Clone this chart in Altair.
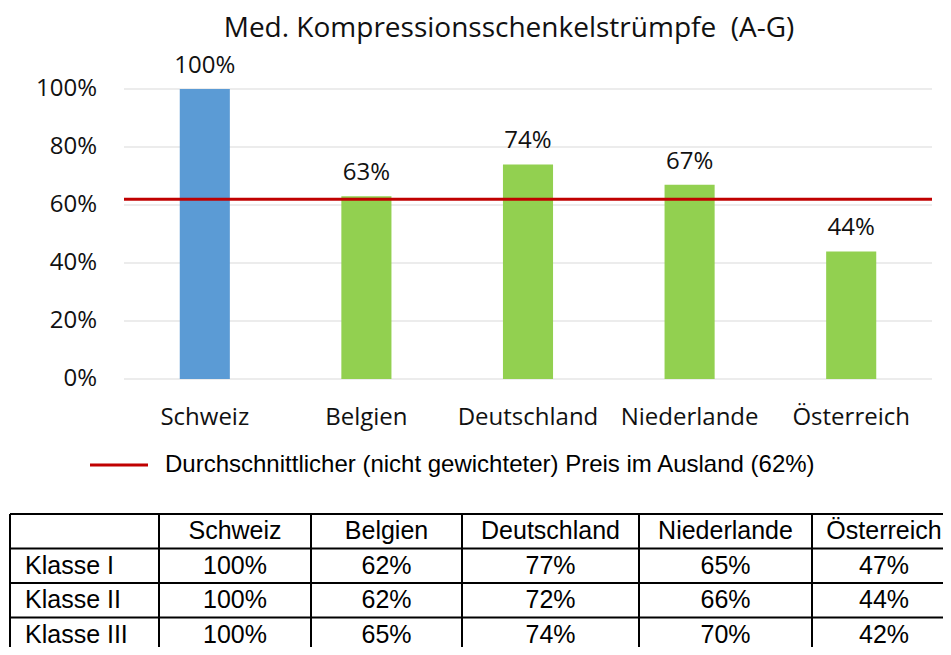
import altair as alt
import pandas as pd

# ---------------- data ----------------
countries = ["Schweiz", "Belgien", "Deutschland", "Niederlande", "Österreich"]
values = [1.00, 0.63, 0.74, 0.67, 0.44]
bar_colors = ["#5B9BD5", "#92D050", "#92D050", "#92D050", "#92D050"]
y_ticks = [0.0, 0.2, 0.4, 0.6, 0.8, 1.0]
average = 0.62
title_text = "Med. Kompressionsschenkelstrümpfe \u00a0(A-G)"
legend_label = "Durchschnittlicher (nicht gewichteter) Preis im Ausland (62%)"

table_header = ["Schweiz", "Belgien", "Deutschland", "Niederlande", "Österreich"]
table_rows = ["Klasse I", "Klasse II", "Klasse III"]
klasse_1 = ["100%", "62%", "77%", "65%", "47%"]
klasse_2 = ["100%", "62%", "72%", "66%", "44%"]
klasse_3 = ["100%", "65%", "74%", "70%", "42%"]
table_values = [klasse_1, klasse_2, klasse_3]

# ---------------- layout ----------------
W, H = 935, 639
PX = [116, 924]
PY = [371, 81]
CAL = "Open Sans"
ARIAL = "Liberation Sans"

xs = alt.Scale(domain=countries, range=PX, paddingInner=0.69, paddingOuter=0.345)
ys = alt.Scale(domain=[0, 1], range=PY, nice=False, zero=False)

df = pd.DataFrame({"country": countries, "value": values})
df_ticks = pd.DataFrame({"t": y_ticks})
one = pd.DataFrame({"k": [0]})

grid = alt.Chart(df_ticks).mark_rule(color="#D9D9D9", strokeWidth=1).encode(
    y=alt.Y("t:Q", scale=ys, axis=None), x=alt.value(PX[0]), x2=alt.value(PX[1]))

ylab = alt.Chart(df_ticks).mark_text(align="right", baseline="middle", font=CAL,
                                     fontSize=24, color="#111").encode(
    y=alt.Y("t:Q", scale=ys, axis=None), x=alt.value(89),
    text=alt.Text("t:Q", format=".0%"))

bars = alt.Chart(df).mark_bar().encode(
    x=alt.X("country:N", scale=xs, axis=None),
    y=alt.Y("value:Q", scale=ys, axis=None),
    color=alt.Color("country:N", scale=alt.Scale(domain=countries, range=bar_colors), legend=None))

barlab = alt.Chart(df).mark_text(baseline="alphabetic", dy=-16, font=CAL, fontSize=24,
                                 color="#111").encode(
    x=alt.X("country:N", scale=xs, axis=None),
    y=alt.Y("value:Q", scale=ys, axis=None),
    text=alt.Text("value:Q", format=".0%"))

xlab = alt.Chart(df).mark_text(baseline="alphabetic", font=CAL, fontSize=24,
                               color="#111").encode(
    x=alt.X("country:N", scale=xs, axis=None), y=alt.value(417), text="country:N")

avg_line = alt.Chart(pd.DataFrame({"avg": [average]})).mark_rule(
    color="#C00000", strokeWidth=3).encode(
    y=alt.Y("avg:Q", scale=ys, axis=None), x=alt.value(PX[0]), x2=alt.value(PX[1]))

leg_line = alt.Chart(one).mark_rule(color="#C00000", strokeWidth=3).encode(
    x=alt.value(82), x2=alt.value(140), y=alt.value(457))
leg_text = alt.Chart(pd.DataFrame({"l": [legend_label]})).mark_text(
    align="left", baseline="middle", font=ARIAL, fontSize=24, color="#000").encode(
    x=alt.value(157), y=alt.value(457), text="l:N")

title = alt.Chart(pd.DataFrame({"l": [title_text]})).mark_text(
    align="center", baseline="alphabetic", font=CAL, fontSize=28, color="#111").encode(
    x=alt.value(501), y=alt.value(29), text="l:N")

# ---------------- table ----------------
n_cols = len(table_header) + 1
n_rows = len(table_rows) + 1
tx = alt.Scale(domain=list(range(n_cols + 1)), range=[2, 151, 303, 454, 631, 804, 948],
               nice=False, zero=False)
ty = alt.Scale(domain=[0, n_rows], range=[506, 644], nice=False, zero=False)

hl = alt.Chart(pd.DataFrame({"r": list(range(n_rows))})).mark_rule(
    color="#000", strokeWidth=2).encode(
    y=alt.Y("r:Q", scale=ty, axis=None), x=alt.value(2), x2=alt.value(W + 20))
vl = alt.Chart(pd.DataFrame({"c": list(range(n_cols))})).mark_rule(
    color="#000", strokeWidth=2).encode(
    x=alt.X("c:Q", scale=tx, axis=None), y=alt.value(506), y2=alt.value(H + 20))

cells = []
for j, h in enumerate(table_header):
    cells.append({"c": j + 1.5, "r": 0.5, "txt": h})
for i, row in enumerate(table_values):
    for j, v in enumerate(row):
        cells.append({"c": j + 1.5, "r": i + 1.5, "txt": v})
df_cells = pd.DataFrame(cells)
df_rowlab = pd.DataFrame({"c": [0] * len(table_rows),
                          "r": [i + 1.5 for i in range(len(table_rows))],
                          "txt": table_rows})

cell_text = alt.Chart(df_cells).mark_text(
    align="center", baseline="middle", font=ARIAL, fontSize=25, color="#000").encode(
    x=alt.X("c:Q", scale=tx, axis=None), y=alt.Y("r:Q", scale=ty, axis=None), text="txt:N")
row_text = alt.Chart(df_rowlab).mark_text(
    align="left", baseline="middle", dx=15, font=ARIAL, fontSize=25, color="#000").encode(
    x=alt.X("c:Q", scale=tx, axis=None), y=alt.Y("r:Q", scale=ty, axis=None), text="txt:N")

chart = alt.layer(
    grid, ylab, bars, barlab, xlab, avg_line, leg_line, leg_text, title,
    hl, vl, cell_text, row_text
).resolve_scale(
    x="independent", y="independent", color="independent"
).properties(
    width=W, height=H, autosize=alt.AutoSizeParams(type="none"), padding=0
).configure_view(stroke=None)

chart.save("out.html", embed_options={"renderer": "svg", "actions": False})
